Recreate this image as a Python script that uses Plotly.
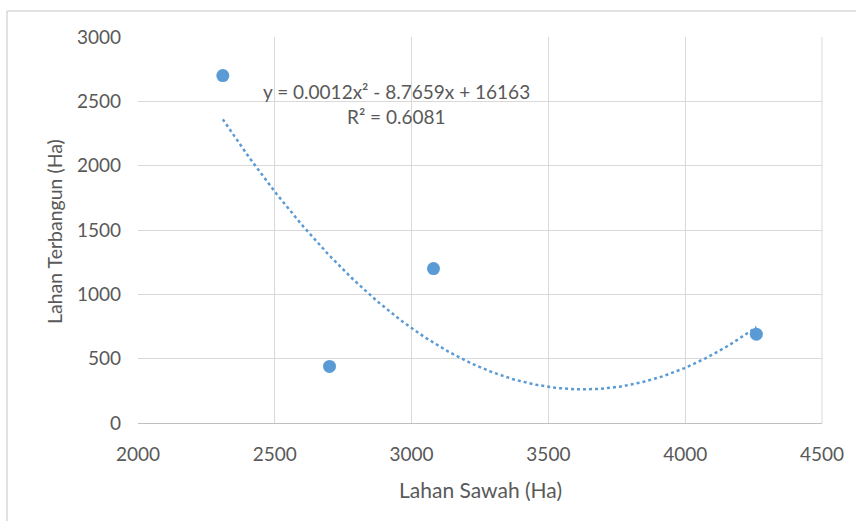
import numpy as np
import plotly.graph_objects as go

# Data
lahan_sawah = [2310, 2700, 3080, 4260]
lahan_terbangun = [2700, 440, 1200, 690]
equation_text = "y = 0.0012x² - 8.7659x + 16163"
r2_text = "R² = 0.6081"
x_title = "Lahan Sawah (Ha)"
y_title = "Lahan Terbangun (Ha)"
x_ticks = [2000, 2500, 3000, 3500, 4000, 4500]
y_ticks = [0, 500, 1000, 1500, 2000, 2500, 3000]

BLUE = "#5B9BD5"
TXT = "#595959"
GRID = "#D9D9D9"
FONT = "Lato, Roboto, sans-serif"

# Polynomial (order 2) trendline fitted to the data
coef = np.polyfit(lahan_sawah, lahan_terbangun, 2)
tx = np.linspace(min(lahan_sawah), max(lahan_sawah), 200)
ty = np.polyval(coef, tx)

fig = go.Figure()
fig.add_trace(go.Scatter(x=tx, y=ty, mode="lines",
                         line=dict(color=BLUE, width=2.5, dash="dot"),
                         hoverinfo="skip", showlegend=False))
fig.add_trace(go.Scatter(x=lahan_sawah, y=lahan_terbangun, mode="markers",
                         marker=dict(color=BLUE, size=13),
                         showlegend=False))

W, H = 856, 521
L, R, T, B = 138, 34, 37, 98
pw, ph = W - L - R, H - T - B

def px(xp):
    return (xp - L) / pw

def py(yp):
    return (H - B - yp) / ph

fig.update_layout(
    width=W, height=H,
    margin=dict(l=L, r=R, t=T, b=B, autoexpand=False),
    paper_bgcolor="white", plot_bgcolor="white",
    font=dict(family=FONT, color=TXT, size=19),
    xaxis=dict(range=[2000, 4500], tickvals=x_ticks, showgrid=True,
               gridcolor=GRID, gridwidth=1, zeroline=False,
               showline=True, linecolor="#BFBFBF", linewidth=1,
               mirror=False, ticks="", ticklabelstandoff=14,
               automargin=False, fixedrange=True),
    yaxis=dict(range=[0, 3000], tickvals=y_ticks, showgrid=True,
               gridcolor=GRID, gridwidth=1, zeroline=False,
               showline=False, ticks="", ticklabelstandoff=16,
               automargin=False, fixedrange=True),
    annotations=[
        dict(x=px(396), y=py(92), xref="paper", yref="paper",
             text=equation_text, showarrow=False, xanchor="center",
             yanchor="middle", font=dict(size=19, color=TXT)),
        dict(x=px(396), y=py(117), xref="paper", yref="paper",
             text=r2_text, showarrow=False, xanchor="center",
             yanchor="middle", font=dict(size=19, color=TXT)),
        dict(x=px(480), y=py(489), xref="paper", yref="paper",
             text=x_title, showarrow=False, xanchor="center",
             yanchor="middle", font=dict(size=21, color=TXT)),
        dict(x=px(54), y=py(232), xref="paper", yref="paper",
             text=y_title, showarrow=False, xanchor="center",
             yanchor="middle", textangle=-90,
             font=dict(size=19.5, color=TXT)),
    ],
    shapes=[
        dict(type="line", xref="paper", yref="paper",
             x0=px(7), x1=px(860), y0=py(11), y1=py(11),
             line=dict(color=GRID, width=1.5)),
        dict(type="line", xref="paper", yref="paper",
             x0=px(7), x1=px(7), y0=py(11), y1=py(525),
             line=dict(color=GRID, width=1.5)),
        dict(type="line", xref="paper", yref="paper",
             x0=1, x1=1, y0=0, y1=1,
             line=dict(color=GRID, width=1)),
    ],
)

fig.write_html(
    "out.html",
    config={"displayModeBar": False},
    post_script="document.body.style.margin='0';"
                "document.body.style.overflow='hidden';",
)
